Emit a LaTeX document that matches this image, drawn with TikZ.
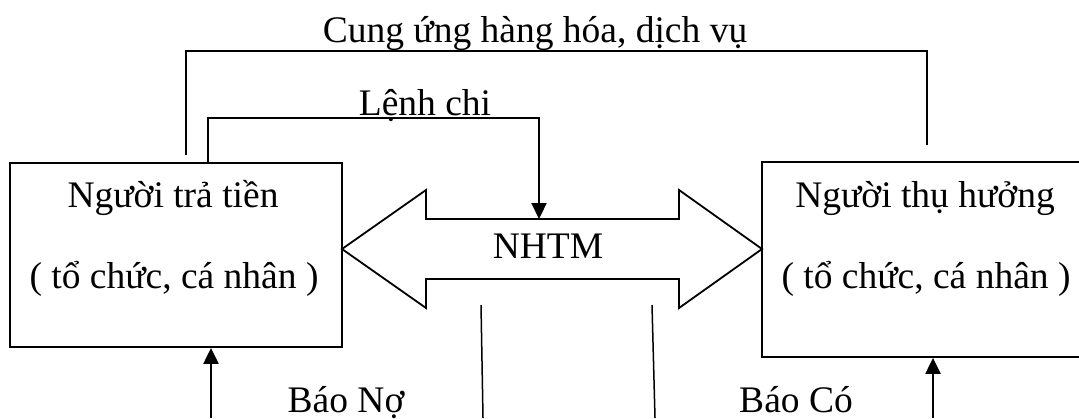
\documentclass[tikz,border=0pt]{standalone}
\usepackage{fontspec}
\setmainfont{Liberation Serif}
\usetikzlibrary{arrows.meta}
\begin{document}
\begin{tikzpicture}[x=0.5pt,y=-0.5pt,
  box/.style={draw,line width=0.9pt,inner sep=0pt},
  lbl/.style={anchor=base,inner sep=0pt,font=\fontsize{18.75}{22}\selectfont},
  conn/.style={line width=0.9pt},
  thin/.style={line width=0.75pt},
  arr/.style={line width=1.1pt,-{Triangle[width=7.5pt,length=8pt]}}]
\useasboundingbox (0,0) rectangle (1079,418);
% boxes
\node[box,minimum width=166pt,minimum height=92pt] (payer) at (176,255) {};
\node[box,minimum width=164pt,minimum height=97.5pt] (payee) at (926,259.5) {};
\node[lbl] (payer1) at (173,207) {Người trả tiền};
\node[lbl] (payer2) at (174,288) {( tổ chức, cá nhân )};
\node[lbl] (payee1) at (925,207) {Người thụ hưởng};
\node[lbl] (payee2) at (926,288) {( tổ chức, cá nhân )};
% NHTM double arrow
\draw[conn] (342,249) -- (426,190) -- (426,219) -- (679,219) -- (679,190)
  -- (762,249) -- (679,308) -- (679,279) -- (426,279) -- (426,308) -- cycle;
\node[lbl] (nhtm) at (548,258) {NHTM};
\coordinate (nhtmtop) at (539,219);
\coordinate (nhtmb1) at (481,305);
\coordinate (nhtmb2) at (652,305);
\coordinate (bot1) at (483,418);
\coordinate (bot2) at (655,418);
% Cung ung connector
\coordinate (c1) at (186,155);
\coordinate (c2) at (927,145);
\coordinate (ctop) at (0,51);
\draw[conn] (c1) |- (c2 |- ctop) -- (c2);
\node[lbl] (cung) at (535,42) {Cung ứng hàng hóa, dịch vụ};
% Lenh chi
\coordinate (ltop) at (0,118);
\draw[arr] ([xshift=16pt]payer.north) |- (nhtmtop |- ltop) -- (nhtmtop);
\node[lbl] (lenh) at (425,115) {Lệnh chi};
% bottom lines
\draw[thin] (nhtmb1) -- (bot1);
\draw[thin] (nhtmb2) -- (bot2);
% up arrows
\coordinate (u1) at (211,418);
\coordinate (u2) at (933,418);
\draw[arr] (u1) -- (u1 |- payer.south);
\draw[arr] (u2) -- (u2 |- payee.south);
\node[lbl] (bno) at (346,412) {Báo Nợ};
\node[lbl] (bco) at (796,412) {Báo Có};
\end{tikzpicture}
\end{document}
